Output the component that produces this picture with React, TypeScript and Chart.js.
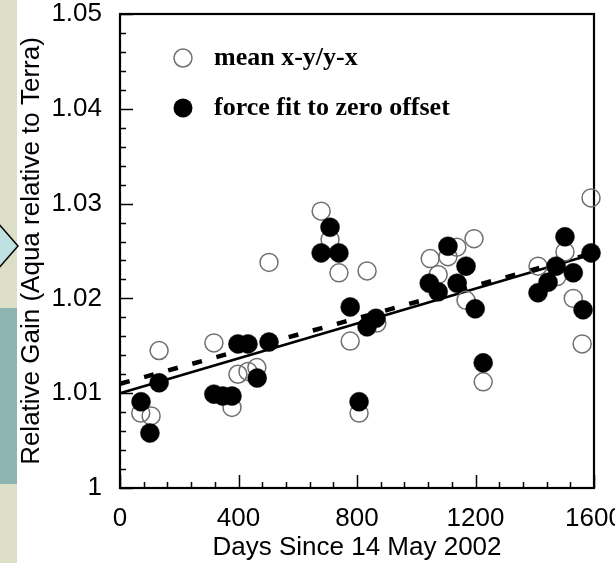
import React, { useEffect, useRef } from 'react';
import { Chart, registerables } from 'chart.js';

Chart.register(...registerables);

// ---- data ----
const openDays = [70, 105, 132, 317, 378, 398, 432, 462, 503, 679, 709, 739, 777, 807, 834, 867, 1047, 1074, 1107, 1137, 1168, 1195, 1226, 1411, 1475, 1502, 1530, 1560, 1590];
const openGain = [1.0079, 1.0076, 1.0145, 1.0153, 1.0085, 1.0120, 1.0123, 1.0127, 1.0238, 1.0292, 1.0262, 1.0227, 1.0155, 1.0079, 1.0229, 1.0174, 1.0242, 1.0225, 1.0244, 1.0254, 1.0198, 1.0263, 1.0112, 1.0234, 1.0223, 1.0249, 1.0200, 1.0152, 1.0306];

const filledDays = [71, 101, 132, 317, 347, 378, 398, 432, 463, 503, 679, 709, 739, 777, 807, 834, 864, 1044, 1074, 1107, 1138, 1168, 1199, 1226, 1411, 1445, 1472, 1502, 1530, 1563, 1590];
const filledGain = [1.0091, 1.0058, 1.0111, 1.0099, 1.0097, 1.0097, 1.0152, 1.0152, 1.0116, 1.0154, 1.0248, 1.0275, 1.0248, 1.0191, 1.0091, 1.0170, 1.0179, 1.0216, 1.0207, 1.0255, 1.0216, 1.0234, 1.0189, 1.0132, 1.0206, 1.0217, 1.0234, 1.0265, 1.0227, 1.0188, 1.0248];

const fitDays = [0, 1600];
const solidFit = [1.0100, 1.0247];
const dashedFit = [1.0110, 1.0248];

const xTicks = [0, 400, 800, 1200, 1600];
const xMinorStep = 80;
const yTicks = [1, 1.01, 1.02, 1.03, 1.04, 1.05];
const yMinorStep = 0.002;

const legendLabels = ['mean x-y/y-x', 'force fit to zero offset'];
const xTitle = 'Days Since 14 May 2002';
const yTitle = 'Relative Gain (Aqua relative to Terra)';

const toXY = (xs: number[], ys: number[]) => xs.map((x, i) => ({ x, y: ys[i] }));

const decorPlugin = {
  id: 'decor',
  beforeDraw(chart: any) {
    const ctx = chart.ctx;
    ctx.save();
    ctx.fillStyle = '#ffffff';
    ctx.fillRect(0, 0, chart.width, chart.height);
    ctx.fillStyle = '#dddec6';
    ctx.fillRect(0, 0, 17, chart.height);
    ctx.fillStyle = '#8cb4b0';
    ctx.fillRect(0, 308, 17, 176);
    ctx.beginPath();
    ctx.moveTo(-3, 222);
    ctx.lineTo(18, 246);
    ctx.lineTo(-3, 270);
    ctx.closePath();
    ctx.fillStyle = '#bfe1e1';
    ctx.fill();
    ctx.lineWidth = 1.5;
    ctx.strokeStyle = '#000';
    ctx.stroke();
    ctx.restore();
  },
  beforeDatasetsDraw(chart: any) {
    const ctx = chart.ctx;
    const { left, right, top, bottom } = chart.chartArea;
    const xs = chart.scales.x;
    const ys = chart.scales.y;
    ctx.save();
    ctx.strokeStyle = '#000';
    ctx.lineWidth = 1.5;
    // x ticks (inward, from bottom axis)
    const nX = Math.round((xs.max - xs.min) / xMinorStep);
    for (let i = 0; i <= nX; i++) {
      const v = xs.min + i * xMinorStep;
      const major = i % 5 === 0;
      const px = Math.round(xs.getPixelForValue(v)) + 0.5;
      const len = major ? 13 : 6;
      ctx.beginPath();
      ctx.moveTo(px, bottom);
      ctx.lineTo(px, bottom - len);
      ctx.stroke();
    }
    // y ticks (inward, from left axis)
    const nY = Math.round((ys.max - ys.min) / yMinorStep);
    for (let i = 0; i <= nY; i++) {
      const v = ys.min + i * yMinorStep;
      const major = i % 5 === 0;
      const py = Math.round(ys.getPixelForValue(v)) + 0.5;
      const len = major ? 13 : 6;
      ctx.beginPath();
      ctx.moveTo(left, py);
      ctx.lineTo(left + len, py);
      ctx.stroke();
    }
    // frame
    ctx.lineWidth = 2.2;
    ctx.strokeRect(left, top, right - left, bottom - top);
    ctx.restore();
  },
  afterDraw(chart: any) {
    const ctx = chart.ctx;
    ctx.save();
    // legend
    const mx = 183;
    const rows = [58, 108];
    ctx.beginPath();
    ctx.arc(mx, rows[0], 9, 0, Math.PI * 2);
    ctx.lineWidth = 1.5;
    ctx.strokeStyle = '#707070';
    ctx.stroke();
    ctx.beginPath();
    ctx.arc(mx, rows[1], 9.5, 0, Math.PI * 2);
    ctx.fillStyle = '#000';
    ctx.fill();
    ctx.fillStyle = '#000';
    ctx.font = 'bold 26px "Liberation Serif", "DejaVu Serif", serif';
    ctx.textBaseline = 'alphabetic';
    ctx.textAlign = 'left';
    ctx.fillText(legendLabels[0], 214, rows[0] + 7);
    ctx.fillText(legendLabels[1], 214, rows[1] + 7);
    ctx.restore();
  },
};

export default function App() {
  const ref = useRef<HTMLCanvasElement | null>(null);

  useEffect(() => {
    if (!ref.current) return;
    const font = { family: '"Liberation Sans", Arial, Helvetica, sans-serif', size: 26, lineHeight: 1.2 };
    const chart = new Chart(ref.current, {
      type: 'scatter',
      data: {
        datasets: [
          {
            label: legendLabels[1],
            data: toXY(filledDays, filledGain),
            pointRadius: 9.5,
            pointBackgroundColor: '#000',
            pointBorderColor: '#000',
            pointBorderWidth: 0.5,
            clip: false,
          } as any,
          {
            label: legendLabels[0],
            data: toXY(openDays, openGain),
            pointRadius: 9,
            pointBackgroundColor: 'rgba(255,255,255,0)',
            pointBorderColor: '#6f6f6f',
            pointBorderWidth: 1.5,
            clip: false,
          } as any,
          {
            label: 'fit',
            data: toXY(fitDays, solidFit),
            showLine: true,
            borderColor: '#000',
            borderWidth: 2.6,
            pointRadius: 0,
            clip: false,
          } as any,
          {
            label: 'fit zero offset',
            data: toXY(fitDays, dashedFit),
            showLine: true,
            borderColor: '#000',
            borderWidth: 4.5,
            borderDash: [10, 15],
            borderCapStyle: 'butt',
            pointRadius: 0,
            clip: false,
          } as any,
        ],
      },
      options: {
        animation: false,
        responsive: false,
        devicePixelRatio: 1,
        layout: { padding: { top: 14, right: 21, left: 0, bottom: 0 } },
        plugins: { legend: { display: false }, tooltip: { enabled: false } },
        scales: {
          x: {
            type: 'linear',
            min: 0,
            max: 1600,
            grid: { display: false, drawTicks: false, tickLength: 0 },
            border: { display: false },
            afterBuildTicks: (s: any) => { s.ticks = xTicks.map((v) => ({ value: v })); },
            afterFit: (s: any) => { s.height = 75; s.paddingLeft = 0; s.paddingRight = 0; },
            ticks: {
              color: '#000',
              font,
              padding: 15,
              maxRotation: 0,
              autoSkip: false,
              callback: (v: any) => String(v),
            },
            title: {
              display: true,
              text: xTitle,
              color: '#000',
              font,
              padding: { top: 0, bottom: 0 },
            },
          },
          y: {
            type: 'linear',
            min: 1,
            max: 1.05,
            grid: { display: false, drawTicks: false, tickLength: 0 },
            border: { display: false },
            afterBuildTicks: (s: any) => { s.ticks = yTicks.map((v) => ({ value: v })); },
            afterFit: (s: any) => { s.width = 120; s.paddingTop = 0; s.paddingBottom = 0; },
            ticks: {
              color: '#000',
              font,
              padding: 18,
              autoSkip: false,
              callback: (v: any) => {
                const t = Number(v).toFixed(2);
                return t === '1.00' ? '1' : t;
              },
            },
            title: {
              display: true,
              text: yTitle,
              color: '#000',
              font,
              padding: { top: 16, bottom: 0 },
            },
          },
        },
      } as any,
      plugins: [decorPlugin],
    });
    return () => chart.destroy();
  }, []);

  return (
    <div style={{ position: 'absolute', left: 0, top: 0, width: 615, height: 563, background: '#fff' }}>
      <canvas ref={ref} width={615} height={563} style={{ display: 'block', width: 615, height: 563 }} />
    </div>
  );
}
